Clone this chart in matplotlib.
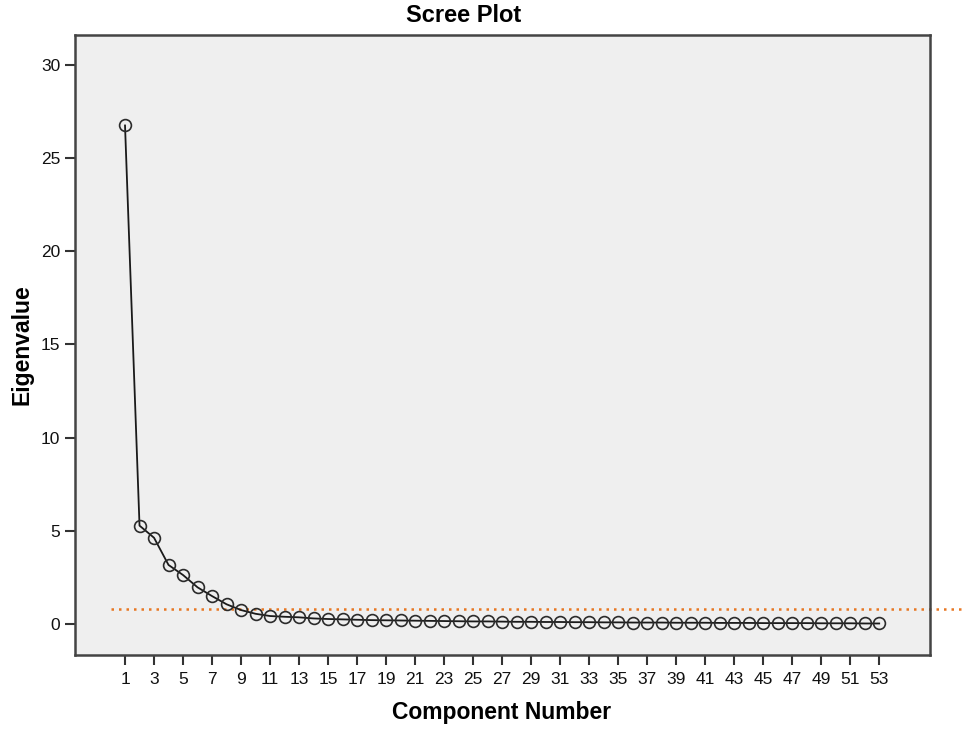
import matplotlib.pyplot as plt

plt.rcParams['font.family'] = ['Liberation Sans', 'DejaVu Sans']

components = list(range(1, 54))
eigenvalues = [26.75, 5.28, 4.63, 3.17, 2.63, 1.97, 1.50, 1.06, 0.75, 0.55,
               0.43, 0.39, 0.36, 0.30, 0.27, 0.25, 0.23, 0.21, 0.20, 0.19,
               0.18, 0.17, 0.16, 0.15, 0.14, 0.14, 0.13, 0.12, 0.12, 0.11,
               0.11, 0.10, 0.10, 0.09, 0.09, 0.08, 0.08, 0.08, 0.07, 0.07,
               0.07, 0.06, 0.06, 0.06, 0.05, 0.05, 0.05, 0.05, 0.04, 0.04,
               0.04, 0.03, 0.03]
x_ticks = list(range(1, 54, 2))
y_ticks = [0, 5, 10, 15, 20, 25, 30]
cutoff = 0.8

fig = plt.figure(figsize=(9.65, 7.31), dpi=100)
ax = fig.add_axes([0.0777, 0.104, 0.886, 0.848])
ax.set_facecolor('#efefef')

ax.plot(components, eigenvalues, color='#1a1a1a', lw=1.3, marker='o', ms=8.5,
        mfc='none', mec='#2b2b2b', mew=1.2, zorder=3)

# orange cutoff line runs past the right edge of the plot
ax.plot([0, 61], [cutoff, cutoff], color='#e87722', lw=1.8, ls=(0, (1, 2)),
        clip_on=False, zorder=2)

ax.set_xlim(-2.45, 56.5)
ax.set_ylim(-1.66, 31.6)
ax.set_xticks(x_ticks)
ax.set_yticks(y_ticks)
ax.tick_params(axis='both', direction='out', length=7, width=1.5, color='#333333',
               labelsize=12.5, labelcolor='#111111')
ax.tick_params(axis='x', pad=5)

for s in ax.spines.values():
    s.set_color('#444444')
    s.set_linewidth(1.8)

fig.text(464 / 965, 1 - 15 / 731, 'Scree Plot', fontsize=17, fontweight='bold',
         ha='center', va='center')
fig.text(502 / 965, 1 - 712 / 731, 'Component Number', fontsize=16.5,
         fontweight='bold', ha='center', va='center')
fig.text(22 / 965, 1 - 345 / 731, 'Eigenvalue', fontsize=16.5, fontweight='bold',
         ha='center', va='center', rotation=90)

fig.savefig('out.png', dpi=100)
